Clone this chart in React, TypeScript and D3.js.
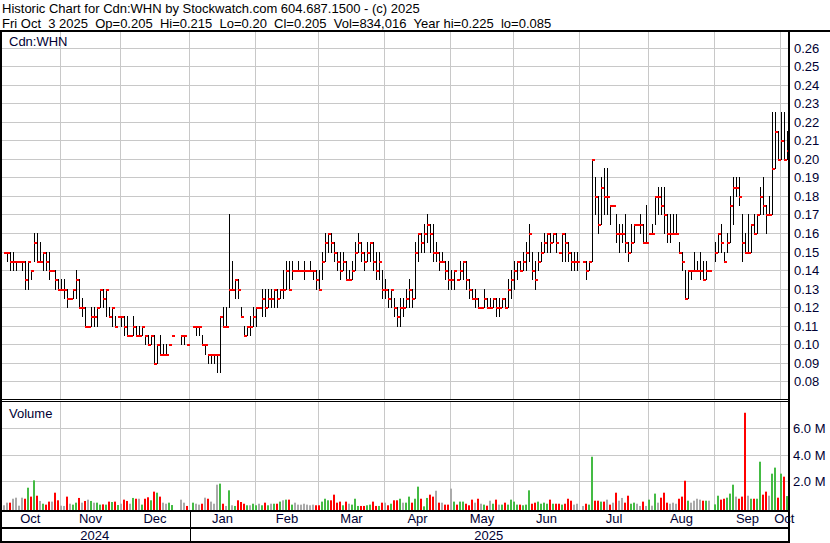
import * as d3 from "d3";

// daily bars, prices in thousandths of a dollar, null = no trade that day
const highs = [
  150, 150, 150, 150, 145, 145, 145, 145, 145, 140,
  160, 160, 155, 150, 150, 150, 140, 140, 135, 135,
  135, 130, 125, 130, 140, 135, 125, 120, 110, 120,
  120, 120, 130, 130, 130, 120, 120, 115, 115, 115,
  115, 115, 105, 115, 110, 110, 110, 105, 105, 105,
  105, 100, 105, 100, 100, 100, 105, null, null, 105,
  105, 100, null, 110, 110, 110, 105, 100, 95, 95,
  95, 95, 115, 120, 120, 170, 145, 135, 135, 120,
  110, 110, 115, 120, 120, 120, 130, 130, 130, 130,
  130, 130, 130, 140, 145, 145, 145, 140, 145, 140,
  145, 140, 145, 140, 140, 140, 150, 160, 160, 160,
  155, 150, 150, 150, 145, 140, 145, 155, 160, 155,
  150, 155, 155, 155, 150, 150, 140, 135, 130, 130,
  125, 120, 125, 125, 130, 135, 130, 155, 160, 160,
  165, 170, 165, 165, 155, 150, 150, 145, 145, 140,
  140, 135, 145, 145, 145, 135, 130, 130, 125, 120,
  130, 125, 125, 125, 125, 125, 125, 125, 135, 140,
  145, 145, 145, 150, 155, 165, 150, 145, 150, 155,
  160, 160, 160, 160, 160, 150, 160, 160, 155, 150,
  150, 150, null, 145, 145, 145, 200, 190, 180, 190,
  195, 195, 175, 175, 170, 165, 165, 170, 155, 165,
  165, 165, 170, 165, 175, 160, 165, 180, 185, 185,
  185, 170, 170, 170, 170, 155, 150, 140, 140, 140,
  150, 145, 150, 145, 145, 140, null, 155, 160, 165,
  150, 160, 180, 190, 190, 190, 170, 160, 170, 165,
  170, 170, 185, 190, 175, 180, 225, 225, 215, 225,
  225, 215,
];

const lows = [
  150, 145, 140, 140, 140, 145, 140, 130, 130, 135,
  145, 145, 145, 140, 140, 135, 140, 130, 130, 130,
  125, 120, 125, 125, 125, 120, 115, 110, 110, 110,
  110, 110, 120, 120, 115, 115, 110, 110, 115, 110,
  105, 105, 105, 105, 105, 105, 105, 100, 100, 100,
  90, 90, 95, 95, 95, 100, 105, null, null, 100,
  100, 100, null, 110, 105, 105, 100, 95, 90, 90,
  90, 85, 85, 110, 110, 120, 130, 125, 125, 115,
  105, 105, 105, 110, 110, 120, 115, 115, 120, 120,
  120, 120, 125, 125, 130, 130, 135, 140, 140, 140,
  135, 140, 140, 135, 130, 130, 135, 145, 150, 150,
  145, 140, 135, 140, 135, 135, 135, 140, 150, 145,
  140, 145, 145, 140, 135, 135, 125, 125, 120, 120,
  115, 110, 110, 115, 120, 120, 120, 125, 145, 150,
  150, 155, 150, 145, 145, 140, 145, 135, 130, 130,
  130, 135, 135, 135, 130, 125, 125, 120, 120, 120,
  120, 120, 120, 120, 115, 115, 120, 120, 120, 125,
  130, 135, 140, 140, 140, 145, 135, 130, 140, 145,
  150, 150, 150, 155, 150, 150, 145, 145, 145, 140,
  140, 140, null, 145, 135, 140, 145, 170, 160, 165,
  170, 170, 165, 175, 155, 150, 155, 150, 145, 150,
  155, 165, 160, 155, 155, 160, 160, 165, 170, 170,
  160, 155, 155, 160, 160, 150, 140, 125, 125, 135,
  140, 140, 135, 135, 135, 140, null, 145, 150, 150,
  145, 150, 155, 165, 180, 175, 145, 150, 150, 150,
  160, 160, 170, 170, 160, 170, 170, 195, 200, 200,
  200, 200,
];

const closes = [
  150, 150, 145, 145, 145, 145, 145, 135, 145, 140,
  155, 145, 145, 150, 145, 140, 140, 135, 130, 130,
  130, 125, 125, 130, 135, 120, 120, 110, 110, 115,
  115, 120, 130, 125, 130, 115, 120, 110, 115, 115,
  110, 105, 105, 110, 105, 105, 110, 105, 100, 105,
  90, 100, 95, 95, 95, 100, 105, null, null, 105,
  105, 100, null, 110, 110, 110, 100, 100, 95, 95,
  95, 95, 115, 110, 110, 130, 130, 135, 130, 115,
  105, 110, 110, 115, 120, 120, 125, 120, 125, 125,
  130, 125, 130, 130, 140, 130, 140, 140, 140, 140,
  140, 140, 140, 140, 135, 130, 145, 155, 160, 155,
  150, 145, 140, 145, 135, 135, 140, 150, 155, 150,
  145, 150, 155, 145, 140, 145, 130, 130, 125, 130,
  120, 115, 120, 120, 125, 130, 125, 150, 160, 155,
  160, 165, 160, 150, 150, 145, 145, 140, 135, 135,
  140, 135, 140, 145, 135, 130, 125, 125, 120, 120,
  125, 120, 120, 125, 120, 120, 125, 120, 130, 135,
  140, 145, 140, 145, 150, 160, 140, 135, 145, 150,
  155, 160, 155, 160, 155, 150, 160, 155, 150, 145,
  145, 145, null, 145, 140, 145, 200, 180, 165, 185,
  180, 180, 175, 175, 160, 160, 160, 155, 150, 155,
  165, 165, 165, 155, 155, 160, 160, 180, 180, 175,
  170, 160, 160, 160, 160, 150, 145, 125, 140, 140,
  140, 140, 140, 135, 140, 140, null, 150, 160, 155,
  145, 155, 175, 185, 185, 180, 155, 150, 150, 165,
  160, 170, 180, 175, 170, 170, 195, 215, 200, 210,
  200, 205,
];

// shares traded, thousands
const volumes = [
  130, 330, 330, 630, 710, 100, 710, 630, 1470, 790,
  2030, 860, 460, 250, 180, 410, 410, 1090, 510, 100,
  80, 790, 250, 180, 330, 690, 330, 460, 560, 460,
  330, 330, 180, 200, 180, 410, 380, 410, 150, 250,
  560, 460, 250, 690, 630, 630, 180, 630, 740, 510,
  1170, 1090, 790, 330, 250, 330, 150, null, null, 560,
  330, 80, null, 330, 250, 180, 250, 710, 630, 410,
  250, 1700, 1780, 250, 80, 1270, 130, 80, 510, 380,
  250, 130, 130, 250, 130, 250, 130, 330, 130, 250,
  250, 250, 410, 510, 560, 560, 180, 330, 180, 180,
  250, 180, 130, 180, 130, 130, 410, 630, 510, 510,
  940, 330, 410, 130, 410, 250, 180, 630, 80, 80,
  80, 130, 180, 410, 80, 80, 330, 330, 130, 250,
  510, 510, 630, 330, 330, 790, 330, 630, 1550, 630,
  50, 690, 940, 790, 1240, 330, 330, 180, 180, 1400,
  410, 180, 410, 410, 250, 130, 560, 330, 630, 250,
  180, 100, 480, 250, 560, 180, 180, 330, 180, 560,
  410, 180, 180, 130, 180, 1270, 250, 330, 410, 250,
  330, 250, 560, 250, 250, 250, 180, 250, 630, 480,
  180, 250, null, 80, 250, 180, 3830, 480, 480, 410,
  410, 560, 180, 330, 1090, 480, 690, 330, 860, 250,
  330, 250, 80, 410, 80, 560, 100, 1020, 330, 710,
  1090, 330, 250, 330, 250, 630, 790, 2000, 480, 330,
  480, 630, 560, 480, 480, 480, null, 200, 860, 560,
  630, 710, 1020, 1700, 790, 630, 790, 7180, 860, 630,
  630, 630, 3450, 940, 1170, 860, 2540, 3000, 710, 2540,
  2310, 834,
];

const monthLabels = ["Oct", "Nov", "Dec", "Jan", "Feb", "Mar", "Apr", "May", "Jun", "Jul", "Aug", "Sep", "Oct"];
const monthStarts = [0, 19, 39, 62, 84, 105, 127, 149, 170, 192, 215, 237, 259];
const yearLabels = ["2024", "2025"];
const yearStarts = [0, 62];
const priceTicks = [0.08, 0.09, 0.10, 0.11, 0.12, 0.13, 0.14, 0.15, 0.16, 0.17, 0.18, 0.19, 0.20, 0.21, 0.22, 0.23, 0.24, 0.25, 0.26];
const volumeTicks = [2, 4, 6];

const title = "Historic Chart for Cdn:WHN by Stockwatch.com 604.687.1500 - (c) 2025";
const quoteParts = ["Fri Oct  3 2025", "Op=0.205", "Hi=0.215", "Lo=0.20", "Cl=0.205", "Vol=834,016", "Year hi=0.225", "lo=0.085"];

const FONT = "'Liberation Sans', Arial, sans-serif";
const TXT = "#000033";
const GRID = "#c8c8c8";

// keep double spaces visible in svg text
const keepSpaces = (s: string) => s.replace(/  /g, " \u00a0");

export default function App() {
  const n = closes.length;
  const plotRight = 788;
  const x = d3.scaleLinear().domain([0, n - 1]).range([4, 787]);
  const yP = d3.scaleLinear().domain([0.08, 0.26]).range([381.4, 47.5]);
  const yV = d3.scaleLinear().domain([0, 8]).range([507, 402]);
  const px = (i: number) => Math.round(x(i));
  const gx = (i: number) => (i === 0 ? 0 : px(i) - 0.5);

  const bars = d3.range(n).filter((i) => closes[i] != null);

  // volume colour from close vs previous close
  const volColor = (i: number) => {
    let j = i - 1;
    while (j >= 0 && closes[j] == null) j--;
    if (j < 0) return "#aaaaaa";
    const c = closes[i] as number, p = closes[j] as number;
    if (c > p) return "#44bb44";
    if (c < p) return "#ff0000";
    return "#aaaaaa";
  };

  const monthEdges = monthStarts.map(gx).concat([plotRight]);
  const yearEdges = yearStarts.map(gx).concat([plotRight]);

  return (
    <svg
      width={830}
      height={543}
      style={{ position: "fixed", left: 0, top: 0, background: "#fff", fontFamily: FONT }}
    >
      <rect x={0} y={0} width={830} height={543} fill="#fff" />

      {/* header */}
      <text x={2} y={13} fontSize={13} fill="#000">{title}</text>
      <text x={2} y={28} fontSize={13} fill="#000">
        {keepSpaces(quoteParts.join("  "))}
      </text>

      {/* price grid */}
      {priceTicks.map((t) => (
        <line key={"pg" + t} x1={2} x2={plotRight} y1={Math.round(yP(t)) + 0.5} y2={Math.round(yP(t)) + 0.5} stroke={GRID} />
      ))}
      {monthStarts.slice(1).map((m) => (
        <g key={"mg" + m}>
          <line x1={gx(m)} x2={gx(m)} y1={32} y2={399} stroke={GRID} />
          <line x1={gx(m)} x2={gx(m)} y1={402} y2={510} stroke={GRID} />
        </g>
      ))}
      {volumeTicks.map((v) => (
        <line key={"vg" + v} x1={2} x2={plotRight} y1={Math.round(yV(v)) + 0.5} y2={Math.round(yV(v)) + 0.5} stroke={GRID} />
      ))}

      {/* HLC bars */}
      {bars.map((i) => {
        const hi = yP((highs[i] as number) / 1000);
        const lo = yP((lows[i] as number) / 1000);
        if (Math.abs(lo - hi) < 1) return null;
        return <rect key={"hl" + i} x={px(i)} y={Math.round(hi)} width={1} height={Math.round(lo) - Math.round(hi) + 1} fill="#000" />;
      })}
      {bars.map((i) => (
        <rect key={"c" + i} x={px(i)} y={Math.round(yP((closes[i] as number) / 1000))} width={3} height={2} fill="#ff0000" />
      ))}

      {/* volume */}
      {bars.map((i) => {
        const v = volumes[i];
        if (v == null) return null;
        const top = yV(v / 1000);
        return <rect key={"v" + i} x={px(i) - 1} y={top} width={2} height={510 - top} fill={volColor(i)} />;
      })}

      {/* frame */}
      <rect x={0} y={30} width={830} height={2} fill="#000" />
      <rect x={0} y={30} width={2} height={513} fill="#000" />
      <rect x={plotRight} y={30} width={2} height={513} fill="#000" />
      <rect x={0} y={399} width={plotRight} height={1} fill="#000" />
      <rect x={0} y={401} width={plotRight} height={1} fill="#000" />
      <rect x={0} y={510} width={plotRight} height={2} fill="#000" />
      <rect x={0} y={527} width={plotRight} height={2} fill="#000" />
      <rect x={0} y={541} width={plotRight} height={2} fill="#000" />
      <rect x={Math.round(gx(yearStarts[1]))} y={512} width={1} height={29} fill="#000" />

      {/* labels */}
      <text x={9} y={46} fontSize={13} fill={TXT}>Cdn:WHN</text>
      <text x={9} y={418} fontSize={13} fill={TXT}>Volume</text>

      {priceTicks.map((t) => (
        <text key={"pl" + t} x={794} y={Math.round(yP(t)) + 5} fontSize={13} fill={TXT}>
          {t.toFixed(2)}
        </text>
      ))}
      {volumeTicks.map((v) => (
        <text key={"vl" + v} x={793} y={Math.round(yV(v)) + 5} fontSize={13} fill={TXT}>
          {v.toFixed(1) + " M"}
        </text>
      ))}

      {monthLabels.map((m, k) => (
        <text key={"ml" + k} x={(monthEdges[k] + monthEdges[k + 1]) / 2} y={523} fontSize={13} textAnchor="middle" fill={TXT}>
          {m}
        </text>
      ))}
      {yearLabels.map((yl, k) => (
        <text key={"yl" + k} x={(yearEdges[k] + yearEdges[k + 1]) / 2} y={540} fontSize={13} textAnchor="middle" fill={TXT}>
          {yl}
        </text>
      ))}
    </svg>
  );
}
